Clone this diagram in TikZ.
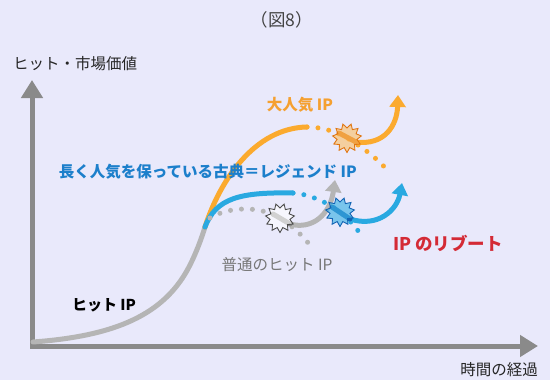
\documentclass[tikz,border=0pt]{standalone}
\usepackage{fontspec}
\setmainfont{Noto Sans CJK JP}
\usetikzlibrary{arrows.meta}
\definecolor{bg}{HTML}{E9E9FB}
\definecolor{axisgray}{HTML}{8A8A8A}
\definecolor{curvegray}{HTML}{B5B5B5}
\definecolor{ipor}{HTML}{FBAA2E}
\definecolor{iporT}{HTML}{F5A030}
\definecolor{iporD}{HTML}{E07612}
\definecolor{ipbl}{HTML}{29A9E1}
\definecolor{ipblT}{HTML}{1C7FCB}
\definecolor{ipblD}{HTML}{1264B4}
\definecolor{ipred}{HTML}{D42A35}
\definecolor{txgray}{HTML}{777777}
\definecolor{titlegray}{HTML}{444444}
\tikzset{
  axisline/.style={line width=5pt, draw=axisgray, line join=miter,
    {Triangle[width=21pt,length=18pt]}-{Triangle[width=21pt,length=18pt]}},
  curve/.style={line width=5pt, line cap=round},
  dots/.style={line width=5pt, line cap=round, dash pattern=on 0pt off 11pt},
  arr/.style={-{Triangle[width=16pt,length=12pt]}},
  inseg/.style={line width=5pt, line cap=round},
  lbl/.style={inner sep=0pt},
  pics/burstpic/.style={code={
    \path[pic actions, line width=0.9pt, line join=miter] (90:14.5)
      foreach \k in {1,...,21} { -- ({\k*360/22+90}:{ifthenelse(isodd(\k),10,14.5)}) } -- cycle;
  }},
}
\begin{document}
\begin{tikzpicture}[x=1pt,y=-1pt]
\path[use as bounding box, fill=bg] (0,0) rectangle (550,380);

% axes
\coordinate (O) at (32,346);
\coordinate (ytip) at (32,80);
\coordinate (xtip) at (538,346);
\draw[axisline] (ytip) -- (O) -- (xtip);

% key points
\coordinate (s0) at (33,342);
\coordinate (s1) at (190,265);
\coordinate (br) at (205,227);
\coordinate (opk) at (307,127);
\coordinate (ost) at (347,138);
\coordinate (oend) at (388,171);
\coordinate (oa) at (355,142);
\coordinate (otip) at (398,95);
\coordinate (bpk) at (293,193);
\coordinate (bst) at (340,212);
\coordinate (bend) at (362,236);
\coordinate (ba) at (350,219);
\coordinate (btip) at (402,183);
\coordinate (gd) at (210,218);
\coordinate (gst) at (280,218);
\coordinate (gend) at (312,248);
\coordinate (ga) at (290,224);
\coordinate (gtip) at (335,180);

% main hit curve
\draw[curve, curvegray] (s0) .. controls (115,336) and (165,315) .. (s1) .. controls (196,253) and (201,240) .. (br);

% orange
\draw[curve, ipor] (br) .. controls (220,180) and (255,128) .. (opk);
\draw[dots, ipor] (opk) .. controls (322,127) and (337,132) .. (ost) .. controls (362,147) and (377,158) .. (oend);

% blue
\draw[curve, ipbl] (br) .. controls (216,198) and (240,192) .. (bpk);
\draw[dots, ipbl] (bpk) .. controls (310,194) and (330,204) .. (bst) .. controls (350,220) and (356,228) .. (bend);

% gray ordinary
\draw[dots, curvegray] (gd) .. controls (228,207) and (258,205) .. (gst) .. controls (294,227) and (305,238) .. (gend);

% rebounds
\draw[curve, curvegray, arr, line cap=butt] (ga) .. controls (312,230) and (330,215) .. (gtip);
\draw[curve, ipor, arr, line cap=butt] (oa) .. controls (385,146) and (397,125) .. (otip);
\draw[curve, ipbl, arr, line cap=butt] (ba) .. controls (378,228) and (397,210) .. (btip);

% bursts (segment seen through translucent burst)
\draw[inseg, black!45] (273,214) -- (290,224);
\pic[draw=black!70, fill=white, fill opacity=0.6] at (gst) {burstpic};
\draw[inseg, ipblD] (332,207) -- (350,219);
\pic[draw=ipblD, fill=ipbl!90, fill opacity=0.65] at (bst) {burstpic};
\draw[inseg, iporD] (339,133) -- (356,142);
\pic[draw=iporD, fill=ipor!75, fill opacity=0.6] at (ost) {burstpic};

% texts
\node[lbl, text=titlegray, font=\fontsize{17.5}{18}\selectfont] (title) at (282,20) {（図8）};
\node[lbl, anchor=west, text=black!85, font=\fontsize{15.5}{16}\selectfont] (ylabel) at (13,63.5) {ヒット・市場価値};
\node[lbl, text=black!85, font=\fontsize{15.5}{16}\selectfont] (xlabel) at (499,370) {時間の経過};
\node[lbl, text=iporT, font=\fontsize{15.5}{16}\selectfont\bfseries] (popular) at (300,104.5) {大人気 IP};
\node[lbl, anchor=east, text=ipblT, font=\fontsize{15.5}{16}\selectfont\bfseries] (legend) at (357,172) {長く人気を保っている古典＝レジェンド IP};
\node[lbl, text=txgray, font=\fontsize{15.5}{16}\selectfont] (normal) at (277,265) {普通のヒット IP};
\node[lbl, text=ipred, font=\fontsize{17.5}{18}\selectfont\bfseries] (reboot) at (448,243.5) {IP のリブート};
\node[lbl, text=black, font=\fontsize{15}{16}\selectfont\bfseries] (hit) at (104,305) {ヒット IP};
\end{tikzpicture}
\end{document}
